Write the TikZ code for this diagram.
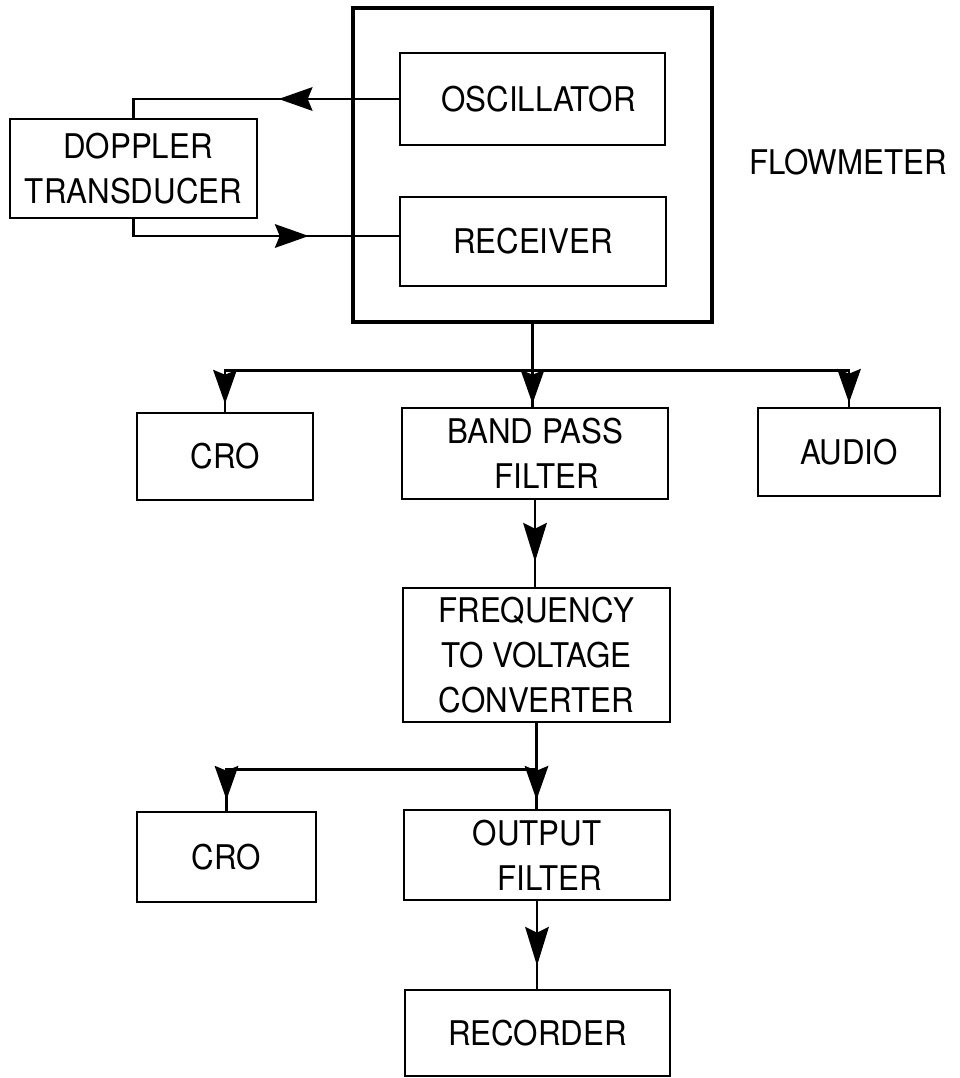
\documentclass[tikz,border=0pt]{standalone}
\usepackage{fontspec}
\setmainfont[FakeStretch=0.92]{TeX Gyre Heros}
\usetikzlibrary{decorations.markings,calc}
\tikzset{
  lbl/.style={font=\fontsize{34}{45}\selectfont},
  blk/.style={lbl, draw, line width=2.6pt, align=center, inner sep=0pt},
  conn/.style={line width=2.6pt},
  arrat/.style={conn, postaction={decorate}, decoration={markings,
    mark=at position #1 with {\fill (0,0) -- (-34,-12) -- (-29,0) -- (-34,12) -- cycle;}}},
  arrlong/.style={conn, postaction={decorate}, decoration={markings,
    mark=at position #1 with {\fill (0,0) -- (-39,-12) -- (-33,0) -- (-39,12) -- cycle;}}}
}
\begin{document}
\begin{tikzpicture}[x=1pt,y=-1pt]
\useasboundingbox (0,0) rectangle (959,1078);
% flowmeter enclosure
\node[draw, line width=4.8pt, minimum width=359pt, minimum height=314pt] (fm) at (532.5,165) {};
\node[lbl] (fmlab) at (848,162) {FLOWMETER};
\node[blk, minimum width=265pt, minimum height=92pt] (osc) at (532.5,99) {\hspace*{12pt}OSCILLATOR};
\node[blk, minimum width=266pt, minimum height=89pt] (rec) at (533,241.5) {RECEIVER};
\node[blk, minimum width=247pt, minimum height=99pt] (dop) at (133.5,168.5) {\hspace*{9pt}DOPPLER\\TRANSDUCER};
% second row
\node[blk, minimum width=176pt, minimum height=87pt] (cro1) at (225,456.5) {CRO};
\node[blk, minimum width=266pt, minimum height=91pt] (bpf) at (535,453.5) {BAND PASS\\\hspace*{24pt}FILTER};
\node[blk, minimum width=182pt, minimum height=88pt] (aud) at (849,452) {AUDIO};
\node[blk, minimum width=267pt, minimum height=134pt] (fvc) at (536.5,655) {FREQUENCY\\TO VOLTAGE\\CONVERTER};
\node[blk, minimum width=179pt, minimum height=90pt] (cro2) at (226.5,857) {CRO};
\node[blk, minimum width=266pt, minimum height=90pt] (of) at (537,855) {OUTPUT\\\hspace*{26pt}FILTER};
\node[blk, minimum width=265pt, minimum height=86pt] (recd) at (537.5,1033) {RECORDER};
% connectors
\draw[arrat=120pt] (osc.west) -| (dop.north);
\coordinate (rin) at ($(rec.west)+(0,-5.5)$);
\draw[arrat=-90pt] (dop.south) |- (rin);
\path (fm.south) ++(0,46) coordinate (b1);
\draw[arrat=-3pt] (fm.south) -- (fm.south |- bpf.north);
\draw[arrat=-8pt] (b1) -| (cro1.north);
\draw[arrat=-4pt] (b1) -| (aud.north);
\draw[arrlong=-25pt] (bpf.south) -- (bpf.south |- fvc.north);
\path (fvc.south) ++(0,46) coordinate (b2);
\draw[arrat=-9pt] (fvc.south) -- (fvc.south |- of.north);
\draw[arrat=-11pt] (b2) -| (cro2.north);
\draw[arrlong=-23pt] (of.south) -- (of.south |- recd.north);
\end{tikzpicture}
\end{document}
